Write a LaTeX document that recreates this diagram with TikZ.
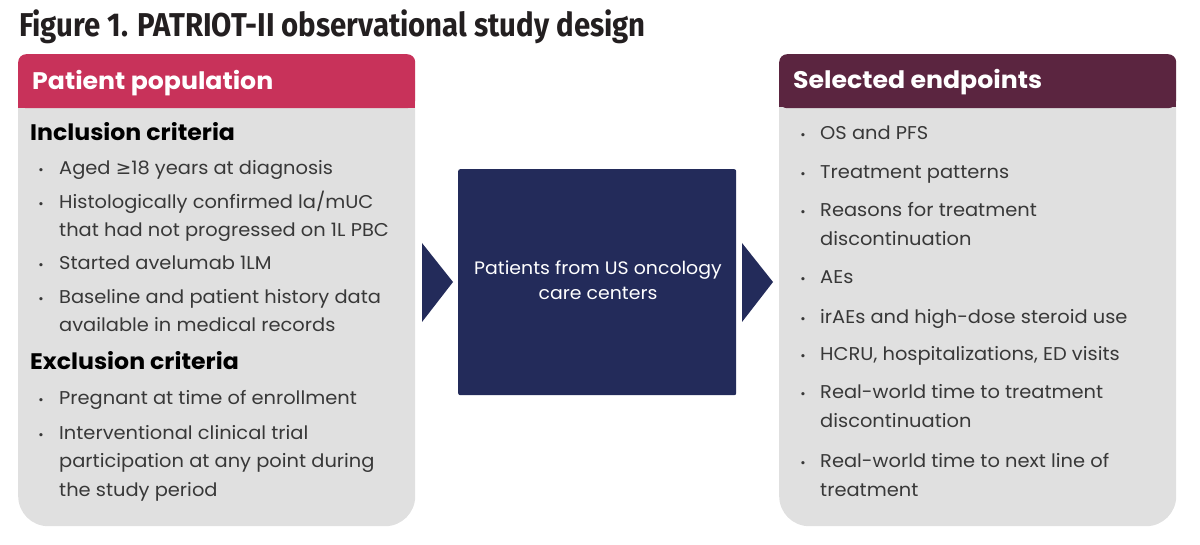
\documentclass[tikz,border=0pt]{standalone}
\usepackage{fontspec}
\setmainfont{Poppins}
\newfontfamily\bodyfont[FakeStretch=1.05]{Poppins}
\newfontfamily\titlefont[FakeStretch=0.89]{Fira Sans}
\newfontfamily\symfont{DejaVu Sans}
\definecolor{hdrpink}{HTML}{C8325A}
\definecolor{hdrmaroon}{HTML}{5B2540}
\definecolor{navy}{HTML}{232B5A}
\definecolor{panelgrey}{HTML}{E0E0E0}
\definecolor{txtgrey}{HTML}{383838}
\definecolor{titlegrey}{HTML}{231F20}
\tikzset{
  panel/.style={fill=panelgrey, rounded corners=30pt, minimum width=397pt, minimum height=472pt, inner sep=0pt, anchor=north west},
  hdr/.style={rounded corners=8pt, minimum width=397pt, minimum height=54pt, inner sep=0pt, anchor=north west},
  hdrtxt/.style={anchor=base west, inner sep=0pt, text=white, font=\bodyfont\bfseries\fontsize{24}{28}\selectfont},
  subhd/.style={anchor=base west, inner sep=0pt, text=black, font=\bodyfont\bfseries\fontsize{22.5}{26}\selectfont},
  txt/.style={anchor=base west, inner sep=0pt, text=txtgrey, font=\bodyfont\fontsize{18.5}{22}\selectfont},
  bul/.style={anchor=base, inner sep=0pt, text=txtgrey, font=\fontsize{13}{14}\selectfont},
  ctxt/.style={anchor=base, inner sep=0pt, text=white, font=\bodyfont\fontsize{18}{22}\selectfont},
  chev/.style={fill=navy},
}
\newcommand{\geqsym}{{\symfont ≥}}
\begin{document}
\begin{tikzpicture}[x=1pt,y=-1pt]
\useasboundingbox (0,0) rectangle (1200,545);
\node[anchor=base west, inner sep=0pt, text=titlegrey, font=\titlefont\bfseries\fontsize{33}{38}\selectfont] (title) at (19,37) {Figure 1. PATRIOT-II observational study design};
% left panel
\node[panel] (lp) at (18,54) {};
\node[hdr, fill=hdrpink] (lh) at (18,54) {};
\fill[hdrpink] (18,90) rectangle (415,108);
\node[hdrtxt] (lht) at (32,90) {Patient population};
\node[subhd] (inc) at (30,141) {Inclusion criteria};
\node[bul] (b1) at (41,175) {•};
\node[txt] (t1) at (59,175) {Aged \geqsym18 years at diagnosis};
\node[bul] (b2) at (41,209) {•};
\node[txt] (t2) at (59,209) {Histologically confirmed la/mUC};
\node[txt] (t2b) at (59,237) {that had not progressed on 1L PBC};
\node[bul] (b3) at (41,270) {•};
\node[txt] (t3) at (59,270) {Started avelumab 1LM};
\node[bul] (b4) at (41,304) {•};
\node[txt] (t4) at (59,304) {Baseline and patient history data};
\node[txt] (t4b) at (59,332) {available in medical records};
\node[subhd] (exc) at (30,370) {Exclusion criteria};
\node[bul] (b5) at (41,404) {•};
\node[txt] (t5) at (59,404) {Pregnant at time of enrollment};
\node[bul] (b6) at (41,439) {•};
\node[txt] (t6) at (59,439) {Interventional clinical trial};
\node[txt] (t6b) at (59,467) {participation at any point during};
\node[txt] (t6c) at (59,496) {the study period};
% centre
\node[fill=navy, rounded corners=2pt, minimum width=278pt, minimum height=226pt, inner sep=0pt, anchor=north west] (ctr) at (458,169) {};
\node[ctxt] (ct1) at (598,275) {Patients from US oncology};
\node[ctxt] (ct2) at (598,300) {care centers};
\fill[chev] (422,243) -- (453,282) -- (422,322) -- cycle;
\fill[chev] (742,243) -- (773,282) -- (742,322) -- cycle;
% right panel
\node[panel] (rp) at (779,54) {};
\node[hdr, fill=hdrmaroon] (rh) at (779,54) {};
\fill[hdrmaroon] (779,90) rectangle (1176,107);
\node[hdrtxt] (rht) at (793,89) {Selected endpoints};
\node[bul] (r1b) at (803,140) {•};
\node[txt] (r1) at (820,140) {OS and PFS};
\node[bul] (r2b) at (803,179) {•};
\node[txt] (r2) at (820,179) {Treatment patterns};
\node[bul] (r3b) at (803,217) {•};
\node[txt] (r3) at (820,217) {Reasons for treatment};
\node[txt] (r3c) at (820,246) {discontinuation};
\node[bul] (r4b) at (803,284) {•};
\node[txt] (r4) at (820,284) {AEs};
\node[bul] (r5b) at (803,324) {•};
\node[txt] (r5) at (820,324) {irAEs and high-dose steroid use};
\node[bul] (r6b) at (803,361) {•};
\node[txt] (r6) at (820,361) {HCRU, hospitalizations, ED visits};
\node[bul] (r7b) at (803,399) {•};
\node[txt] (r7) at (820,399) {Real-world time to treatment};
\node[txt] (r7c) at (820,428) {discontinuation};
\node[bul] (r8b) at (803,467) {•};
\node[txt] (r8) at (820,467) {Real-world time to next line of};
\node[txt] (r8c) at (820,496) {treatment};
\end{tikzpicture}
\end{document}
